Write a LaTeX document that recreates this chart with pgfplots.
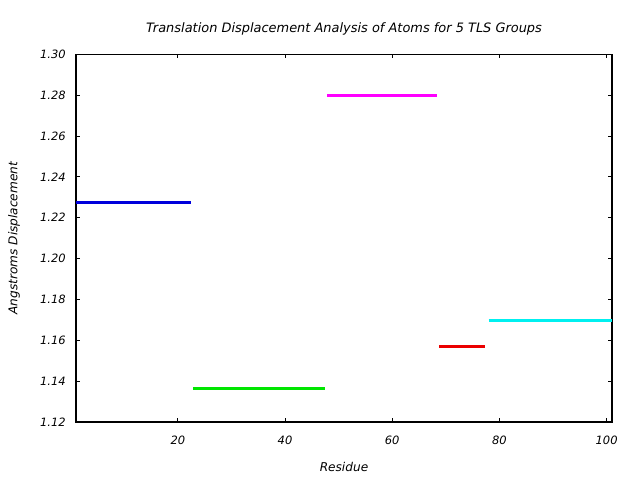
\documentclass[border=0pt]{standalone}
\usepackage{pgfplots}
\pgfplotsset{compat=1.18}
\usepackage{fontspec}
\setmainfont{DejaVu Sans}
\begin{document}
\fontsize{9pt}{10pt}\selectfont\itshape
\begin{tikzpicture}
\begin{axis}[
  at={(0pt,0pt)}, anchor=origin,
  scale only axis, width=402pt, height=275.8pt,
  xmin=1, xmax=101, ymin=1.12, ymax=1.30,
  xtick={20,40,60,80,100},
  ytick={1.12,1.14,1.16,1.18,1.20,1.22,1.24,1.26,1.28,1.30},
  yticklabel style={/pgf/number format/.cd, fixed, fixed zerofill, precision=2, /tikz/.cd, xshift=-4.5pt},
  xticklabel style={yshift=-7.5pt},
  /pgf/number format/assume math mode=true,
  tick align=inside, tick pos=both,
  major tick length=3pt,
  tick style={black, line width=0.6pt},
  axis line style={black, line width=0.8pt},
  ticklabel style={font=\fontsize{8.6pt}{10pt}\selectfont\itshape},
  label style={font=\fontsize{9.1pt}{10pt}\selectfont\itshape},
  title style={font=\fontsize{9.7pt}{11pt}\selectfont\itshape, at={(axis description cs:0.5,1.048)}, anchor=center},
  title={Translation Displacement Analysis of Atoms for 5 TLS Groups},
  xlabel={Residue},
  ylabel={Angstroms Displacement},
  xlabel style={at={(axis description cs:0.5,-0.1224)}, anchor=center},
  ylabel style={at={(axis description cs:-0.1157,0.5)}, anchor=center},
  clip=false,
]
\addplot[color={rgb,255:red,0;green,0;blue,220}, line width=2.2pt] coordinates {(1,1.2275) (22.4,1.2275)};
\addplot[color={rgb,255:red,0;green,230;blue,0}, line width=2.2pt] coordinates {(22.9,1.1365) (47.4,1.1365)};
\addplot[color={rgb,255:red,255;green,0;blue,255}, line width=2.2pt] coordinates {(47.9,1.2799) (68.4,1.2799)};
\addplot[color={rgb,255:red,235;green,0;blue,0}, line width=2.2pt] coordinates {(68.8,1.1571) (77.3,1.1571)};
\addplot[color={rgb,255:red,0;green,240;blue,240}, line width=2.2pt] coordinates {(78.0,1.1698) (101,1.1698)};
\end{axis}
\pgfresetboundingbox
\path (-57pt,-43.5pt) rectangle (423pt,316.5pt);
\end{tikzpicture}
\end{document}
